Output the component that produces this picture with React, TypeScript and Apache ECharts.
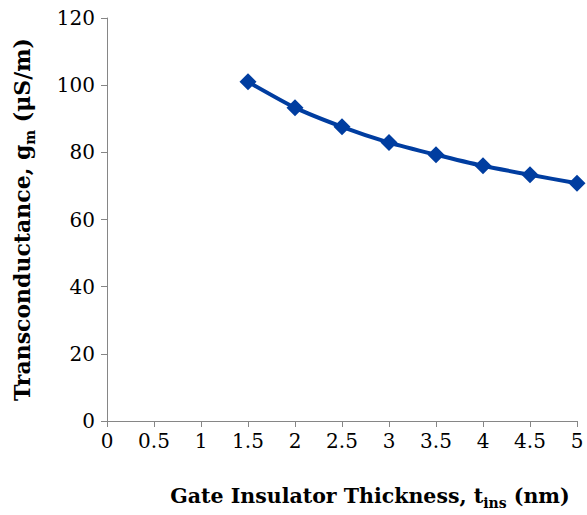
import React, { useEffect, useRef } from "react";
import * as echarts from "echarts";

const thickness = [1.5, 2, 2.5, 3, 3.5, 4, 4.5, 5];
const gm = [101.0, 93.3, 87.6, 82.9, 79.3, 76.0, 73.3, 70.8];

const FONT = "DejaVu Serif";

export default function App() {
  const ref = useRef<HTMLDivElement>(null);
  useEffect(() => {
    if (!ref.current) return;
    const chart = echarts.init(ref.current, undefined, { renderer: "svg" });
    const axisColor = "#868686";
    chart.setOption({
      animation: false,
      backgroundColor: "#ffffff",
      grid: { left: 107, right: 10, top: 18, bottom: 94, containLabel: false, outerBoundsMode: "none" },
      xAxis: {
        type: "value",
        min: 0,
        max: 5,
        interval: 0.5,
        splitLine: { show: false },
        axisLine: { lineStyle: { color: axisColor, width: 1 } },
        axisTick: { show: true, length: 6, lineStyle: { color: axisColor } },
        axisLabel: { color: "#000", fontFamily: FONT, fontSize: 20, margin: 10 },
        name: "{b|Gate Insulator Thickness, t}{s|ins}{b| (nm)}",
        nameLocation: "middle",
        nameGap: 59,
        nameTextStyle: {
          padding: [0, 0, 0, 56],
          rich: {
            b: { fontFamily: FONT, fontSize: 20.5, fontWeight: "bold", color: "#000", lineHeight: 26, verticalAlign: "bottom" },
            s: { fontFamily: FONT, fontSize: 14, fontWeight: "bold", color: "#000", lineHeight: 26, verticalAlign: "bottom", padding: [0, 0, -4, 0] },
          },
        },
      },
      yAxis: {
        type: "value",
        min: 0,
        max: 120,
        interval: 20,
        splitLine: { show: false },
        axisLine: { show: true, lineStyle: { color: axisColor, width: 1 } },
        axisTick: { show: true, length: 6, lineStyle: { color: axisColor } },
        axisLabel: { color: "#000", fontFamily: FONT, fontSize: 20, margin: 12 },
        name: "{b|Transconductance, g}{s|m}{b| (\u03bcS/m)}",
        nameLocation: "middle",
        nameGap: 74,
        nameRotate: 90,
        nameTextStyle: {
          rich: {
            b: { fontFamily: FONT, fontSize: 22, fontWeight: "bold", color: "#000", lineHeight: 26, verticalAlign: "bottom" },
            s: { fontFamily: FONT, fontSize: 14, fontWeight: "bold", color: "#000", lineHeight: 26, verticalAlign: "bottom", padding: [0, 0, -4, 0] },
          },
        },
      },
      series: [
        {
          type: "line",
          data: thickness.map((t, i) => [t, gm[i]]),
          smooth: 0.2,
          symbol: "diamond",
          symbolSize: 17,
          lineStyle: { color: "#003DA0", width: 4 },
          itemStyle: { color: "#003DA0" },
        },
      ],
    });
    return () => chart.dispose();
  }, []);
  return <div ref={ref} style={{ width: 587, height: 515, position: "absolute", left: 0, top: 0 }} />;
}
